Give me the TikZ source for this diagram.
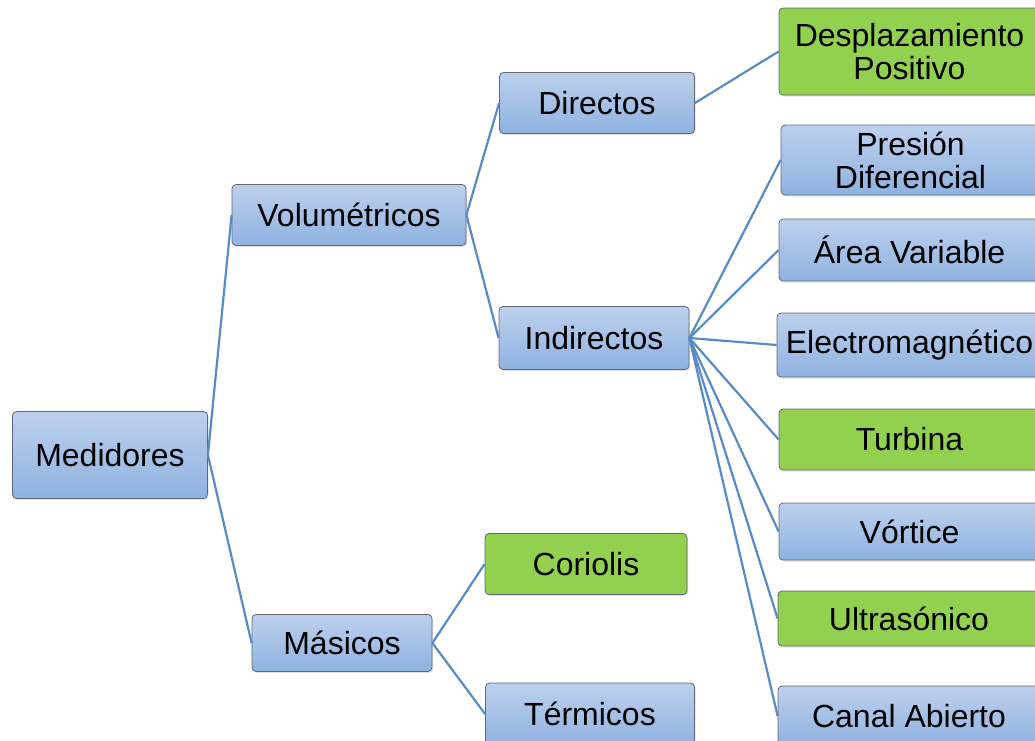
\documentclass[tikz,border=0pt]{standalone}
\usepackage{fontspec}
\setmainfont{Liberation Sans}
\usetikzlibrary{shadows}
\definecolor{blueT}{RGB}{188,208,237}
\definecolor{blueB}{RGB}{143,178,224}
\definecolor{greenF}{RGB}{146,208,80}
\definecolor{edgeC}{RGB}{88,138,198}
\definecolor{borderC}{RGB}{95,105,115}
\tikzset{
  boxbase/.style={rounded corners=4pt, draw=borderC, line width=0.8pt, inner sep=0pt,
    font=\fontsize{32}{33}\selectfont, align=center,
    drop shadow={opacity=0.22, shadow xshift=1.2pt, shadow yshift=-1.5pt}},
  bluebox/.style={boxbase, top color=blueT, bottom color=blueB},
  greenbox/.style={boxbase, fill=greenF},
  conn/.style={draw=edgeC, line width=2.2pt}
}
\begin{document}
\begin{tikzpicture}[x=1pt,y=-1pt]
\path[use as bounding box] (0,0) rectangle (1035,740);
\begin{scope}
\clip (0,0) rectangle (1035,740);
\node[bluebox, minimum width=195pt, minimum height=87pt] (med) at (110,455) {Medidores};
\node[bluebox, minimum width=234pt, minimum height=61pt] (vol) at (349,215) {Volumétricos};
\node[bluebox, minimum width=180pt, minimum height=57pt] (mas) at (342,643) {Másicos};
\node[bluebox, minimum width=195pt, minimum height=61pt] (dir) at (597,103) {Directos};
\node[bluebox, minimum width=190pt, minimum height=63pt] (ind) at (594,338) {Indirectos};
\node[greenbox, minimum width=202pt, minimum height=61pt] (cor) at (586,564) {Coriolis};
\node[bluebox, minimum width=209pt, minimum height=62pt] (ter) at (590,714) {Térmicos};
\node[greenbox, minimum width=261pt, minimum height=87pt] (des) at (909.5,51.5) {Desplazamiento\\Positivo};
\node[bluebox, minimum width=259pt, minimum height=70pt] (pre) at (910.5,160) {Presión\\Diferencial};
\node[bluebox, minimum width=261pt, minimum height=62pt] (are) at (909.5,250) {Área Variable};
\node[bluebox, minimum width=265pt, minimum height=64pt] (ele) at (909.5,345) {Electromagnético};
\node[greenbox, minimum width=261pt, minimum height=61pt] (tur) at (909.5,439.5) {Turbina};
\node[bluebox, minimum width=261pt, minimum height=57pt] (vor) at (909.5,531.5) {Vórtice};
\node[greenbox, minimum width=262pt, minimum height=55pt] (ult) at (909,618.5) {Ultrasónico};
\node[bluebox, minimum width=262pt, minimum height=60pt] (can) at (909,716) {Canal Abierto};

\draw[conn] (med.east) -- (vol.west);
\draw[conn] (med.east) -- (mas.west);
\draw[conn] (vol.east) -- (dir.west);
\draw[conn] (vol.east) -- (ind.west);
\draw[conn] (mas.east) -- (cor.west);
\draw[conn] (mas.east) -- (ter.west);
\draw[conn] (dir.east) -- (des.west);
\foreach \t in {pre,are,ele,tur,vor,ult,can}
  \draw[conn] (ind.east) -- (\t.west);
\end{scope}
\end{tikzpicture}
\end{document}
